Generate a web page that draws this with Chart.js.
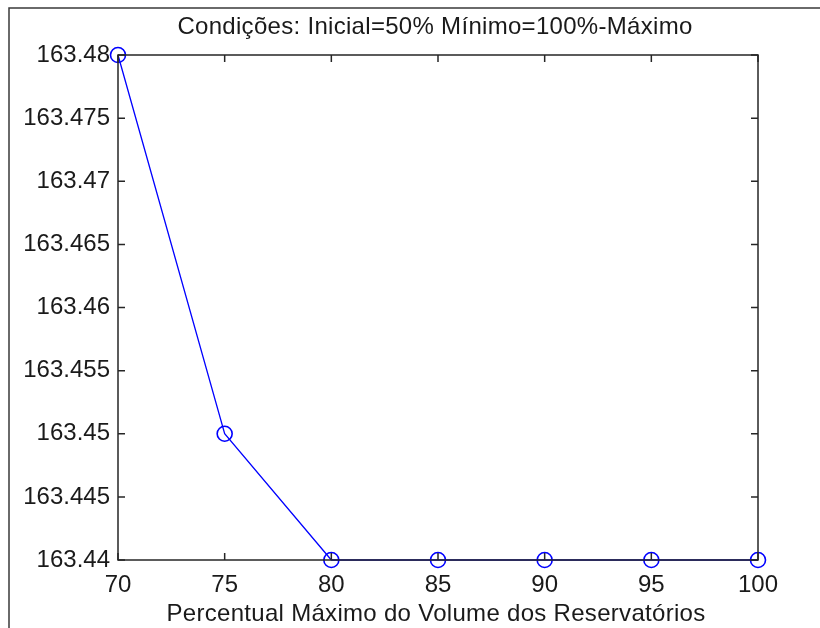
<!DOCTYPE html>
<html>
<head>
<meta charset="utf-8">
<script src="https://cdn.jsdelivr.net/npm/chart.js@4.4.1/dist/chart.umd.min.js"></script>
<style>
  html, body { margin: 0; padding: 0; background: #fff; }
  #wrap { width: 820px; height: 628px; position: relative; }
</style>
</head>
<body>
<div id="wrap"><canvas id="c" width="820" height="628"></canvas></div>
<script>
// Percentual máximo do volume (eixo x) e valores resultantes (eixo y)
const percentual = [70, 75, 80, 85, 90, 95, 100];
const valores = [163.48, 163.45, 163.44, 163.44, 163.44, 163.44, 163.44];

const xTickValues = [70, 75, 80, 85, 90, 95, 100];
const xTickLabels = ['70', '75', '80', '85', '90', '95', '100'];
const yTickValues = [163.44, 163.445, 163.45, 163.455, 163.46, 163.465, 163.47, 163.475, 163.48];
const yTickLabels = ['163.44', '163.445', '163.45', '163.455', '163.46', '163.465', '163.47', '163.475', '163.48'];

const titulo = 'Condições: Inicial=50% Mínimo=100%-Máximo';
const rotuloX = 'Percentual Máximo do Volume dos Reservatórios';

const FONT = '"Liberation Sans", Arial, sans-serif';
const FONT_SIZE = 24;
const TEXT_COLOR = '#1a1a1a';
const AXIS_COLOR = '#262626';
const TICK_LEN = 7;

// Moldura externa, caixa do gráfico, marcas internas e textos
const matlabAxes = {
  id: 'matlabAxes',
  beforeDraw(chart) {
    const ctx = chart.ctx;
    ctx.save();
    ctx.strokeStyle = '#3a3a3a';
    ctx.lineWidth = 1.5;
    ctx.beginPath();
    ctx.moveTo(9, 628);
    ctx.lineTo(9, 8);
    ctx.lineTo(820, 8);
    ctx.stroke();
    ctx.restore();
  },
  afterDatasetsDraw(chart) {
    const { ctx, chartArea: a, scales } = chart;
    ctx.save();
    ctx.strokeStyle = AXIS_COLOR;
    ctx.lineWidth = 1.5;
    ctx.strokeRect(a.left, a.top, a.right - a.left, a.bottom - a.top);
    ctx.beginPath();
    xTickValues.forEach(v => {
      const px = scales.x.getPixelForValue(v);
      ctx.moveTo(px, a.bottom); ctx.lineTo(px, a.bottom - TICK_LEN);
      ctx.moveTo(px, a.top); ctx.lineTo(px, a.top + TICK_LEN);
    });
    yTickValues.forEach(v => {
      const py = scales.y.getPixelForValue(v);
      ctx.moveTo(a.left, py); ctx.lineTo(a.left + TICK_LEN, py);
      ctx.moveTo(a.right, py); ctx.lineTo(a.right - TICK_LEN, py);
    });
    ctx.stroke();

    ctx.fillStyle = TEXT_COLOR;
    ctx.font = FONT_SIZE + 'px ' + FONT;
    ctx.textAlign = 'center';
    ctx.textBaseline = 'alphabetic';
    if ('letterSpacing' in ctx) ctx.letterSpacing = '0.3px';
    const cx = (a.left + a.right) / 2;
    ctx.fillText(titulo, cx - 3, 34);
    ctx.fillText(rotuloX, cx - 2, 621);
    ctx.restore();
  }
};

new Chart(document.getElementById('c'), {
  type: 'line',
  data: {
    datasets: [{
      data: percentual.map((x, i) => ({ x: x, y: valores[i] })),
      borderColor: '#0000ff',
      borderWidth: 1.3,
      pointStyle: 'circle',
      pointRadius: 7.5,
      pointHoverRadius: 7.5,
      pointBorderWidth: 1.6,
      pointBorderColor: '#0000ff',
      pointBackgroundColor: 'rgba(0,0,0,0)',
      tension: 0,
      clip: false
    }]
  },
  plugins: [matlabAxes],
  options: {
    responsive: false,
    animation: false,
    events: [],
    layout: { padding: { left: 0, right: 62, top: 55, bottom: 0 } },
    plugins: {
      legend: { display: false },
      title: { display: false },
      tooltip: { enabled: false }
    },
    scales: {
      x: {
        type: 'linear',
        min: 70,
        max: 100,
        grid: { display: false, drawTicks: false },
        border: { display: false },
        afterBuildTicks(scale) { scale.ticks = xTickValues.map(v => ({ value: v })); },
        afterFit(scale) { scale.height = 68; },
        ticks: {
          padding: 11,
          color: TEXT_COLOR,
          font: { family: FONT, size: FONT_SIZE },
          maxRotation: 0,
          autoSkip: false,
          callback: (v, i) => xTickLabels[i]
        }
      },
      y: {
        type: 'linear',
        min: 163.44,
        max: 163.48,
        grid: { display: false, drawTicks: false },
        border: { display: false },
        afterBuildTicks(scale) { scale.ticks = yTickValues.map(v => ({ value: v })); },
        afterFit(scale) { scale.width = 118; },
        ticks: {
          padding: 8,
          color: TEXT_COLOR,
          font: { family: FONT, size: FONT_SIZE },
          autoSkip: false,
          callback: (v, i) => yTickLabels[i]
        }
      }
    }
  }
});
</script>
</body>
</html>
